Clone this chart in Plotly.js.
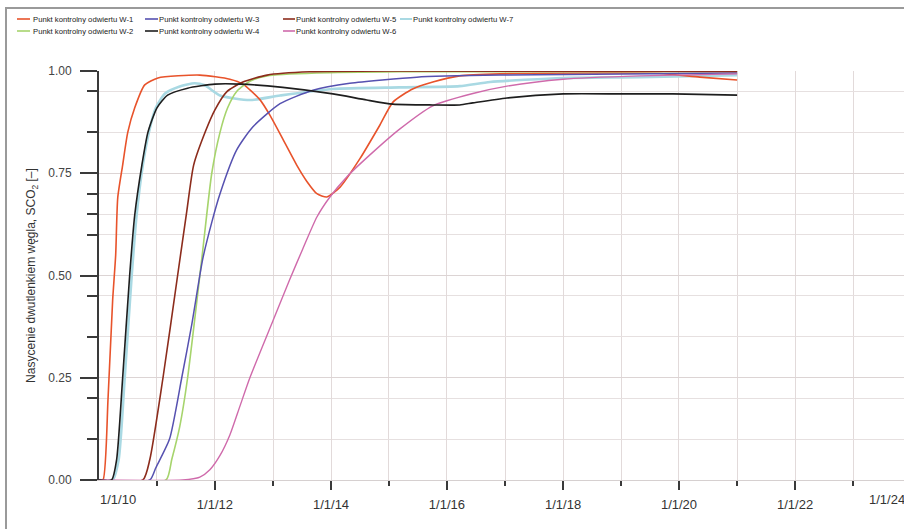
<!DOCTYPE html>
<html>
<head>
<meta charset="utf-8">
<script src="https://cdn.plot.ly/plotly-3.0.1.min.js"></script>
<style>
  html, body { margin: 0; padding: 0; background: #fff; overflow: hidden; width: 904px; height: 529px; }
  #chart { position: absolute; left: 0; top: 0; width: 920px; height: 529px; }
  #frame { position: absolute; left: 5px; top: 7px; width: 920px; height: 540px;
           border-left: 2px solid #9a9a9a; border-top: 2px solid #9a9a9a; pointer-events: none; }
</style>
</head>
<body>
<div id="chart"></div>
<div id="frame"></div>
<script>
// ---- data ----
const seriesNames = ['Punkt kontrolny odwiertu W-1','Punkt kontrolny odwiertu W-2','Punkt kontrolny odwiertu W-3',
  'Punkt kontrolny odwiertu W-4','Punkt kontrolny odwiertu W-5','Punkt kontrolny odwiertu W-6','Punkt kontrolny odwiertu W-7'];

const w1Dates = ['2010-01-01','2010-01-26','2010-02-27','2010-03-28','2010-04-16','2010-04-29','2010-05-30','2010-07-01','2010-08-14','2010-10-16','2011-01-07','2011-09-28','2012-04-04','2012-06-25','2012-10-10','2012-12-12','2013-03-03','2013-05-30','2013-08-02','2013-10-04','2013-12-06','2014-02-27','2014-07-01','2014-11-05','2015-01-26','2015-05-30','2015-10-04','2016-03-21','2016-11-30','2018-08-20','2019-09-03','2020-05-11','2021-01-01'];
const w1Values = [0,0,0.20,0.44,0.55,0.69,0.77,0.85,0.91,0.966,0.983,0.99,0.98,0.968,0.93,0.892,0.834,0.77,0.73,0.70,0.692,0.716,0.785,0.868,0.924,0.956,0.973,0.988,0.993,0.995,0.994,0.985,0.978];

const w2Dates = ['2010-01-01','2011-02-27','2011-04-04','2011-05-24','2011-07-13','2011-10-10','2011-12-12','2012-02-02','2012-03-21','2012-05-17','2012-08-08','2012-11-24','2013-10-04','2015-03-09','2021-01-01'];
const w2Values = [0,0,0.05,0.13,0.25,0.54,0.75,0.85,0.91,0.95,0.975,0.988,0.995,0.998,0.999];

const w3Dates = ['2010-01-01','2010-11-17','2010-12-25','2011-03-21','2011-06-06','2011-08-08','2011-10-16','2011-12-12','2012-02-02','2012-05-17','2012-08-26','2013-02-14','2013-09-09','2014-04-29','2015-06-25','2016-11-30','2021-01-01'];
const w3Values = [0,0,0.03,0.10,0.25,0.38,0.54,0.63,0.70,0.807,0.863,0.92,0.953,0.97,0.985,0.99,0.995];

const w4Dates = ['2010-01-01','2010-03-21','2010-04-22','2010-05-30','2010-07-13','2010-08-14','2010-09-28','2010-11-05','2011-01-01','2011-03-09','2011-07-13','2012-01-01','2012-06-06','2013-03-03','2014-01-13','2014-08-14','2015-01-26','2015-10-04','2016-03-21','2016-06-12','2017-01-13','2018-01-01','2019-01-13','2019-11-24','2021-01-01'];
const w4Values = [0,0,0.05,0.25,0.5,0.648,0.77,0.85,0.91,0.941,0.958,0.968,0.968,0.96,0.944,0.929,0.919,0.917,0.917,0.922,0.934,0.944,0.944,0.944,0.941];

const w5Dates = ['2010-01-01','2010-10-04','2010-11-17','2011-02-08','2011-05-11','2011-07-07','2011-08-20','2011-11-05','2012-01-01','2012-03-15','2012-06-25','2012-11-24','2013-08-20','2015-03-09','2021-01-01'];
const w5Values = [0,0,0.05,0.25,0.5,0.655,0.77,0.855,0.905,0.949,0.973,0.99,0.998,1.0,0.999];

const w6Dates = ['2010-01-01','2011-06-12','2011-09-28','2011-11-30','2012-02-02','2012-04-04','2012-06-06','2012-08-08','2013-01-01','2013-04-16','2013-07-07','2013-10-04','2013-12-25','2014-04-10','2014-08-20','2015-03-09','2015-10-04','2016-06-12','2017-01-13','2018-01-01','2019-04-29','2021-01-01'];
const w6Values = [0,0,0.007,0.025,0.06,0.11,0.18,0.25,0.39,0.49,0.565,0.643,0.692,0.741,0.79,0.858,0.915,0.945,0.963,0.98,0.988,0.993];

const w7Dates = ['2010-01-01','2010-03-28','2010-05-05','2010-06-12','2010-07-26','2010-08-26','2010-10-04','2010-11-11','2010-12-25','2011-02-21','2011-05-24','2011-08-26','2011-10-29','2012-02-02','2012-08-08','2013-02-14','2014-01-13','2015-03-09','2016-03-21','2016-09-28','2018-01-01','2019-04-29','2021-01-01'];
const w7Values = [0,0,0.05,0.25,0.5,0.648,0.77,0.85,0.91,0.945,0.962,0.97,0.965,0.94,0.929,0.94,0.956,0.96,0.963,0.973,0.983,0.985,0.99];

// major x ticks: the inner ones carry axis labels; the two end ones are labelled at the plot edges
const xTickVals = ['2012-01-01','2014-01-01','2016-01-01','2018-01-01','2020-01-01','2022-01-01'];
const xTickText = ['1/1/12','1/1/14','1/1/16','1/1/18','1/1/20','1/1/22'];
const xEndTickVals = ['2010-01-01','2024-01-01'];
const xEndTickText = ['1/1/10','1/1/24'];
const xMinorVals = ['2011-01-01','2013-01-01','2015-01-01','2017-01-01','2019-01-01','2021-01-01','2023-01-01'];
const yTickVals = [0, 0.25, 0.5, 0.75, 1.0];
const yTickText = ['0.00','0.25','0.50','0.75','1.00'];
const yMinorVals = [0.10, 0.20, 0.35, 0.45, 0.60, 0.65, 0.70, 0.85, 0.95];

// ---- styling ----
const W = 920, H = 529;
const M = {l: 99, r: 9, t: 71, b: 49};
const PW = W - M.l - M.r, PH = H - M.t - M.b;
const colors = ['#e8532b','#a6d46c','#5651b0','#1e1e1e','#8c2c1c','#cf6aab','#a9d9e3'];
const widths = [1.6, 1.6, 1.5, 1.6, 1.6, 1.4, 2.6];
// legend key geometry in page pixels: [lineStart, lineEnd, textStart, rowCentre]
const legendPos = [[17,30,33,19],[17,30,33,31],[145,158,159,19],[145,158,159,31],[283,295,296,19],[283,295,296,31],[400,412,413,19]];
const legFont = {family: 'Liberation Sans, Arial, sans-serif', size: 7.7, color: '#222'};
const tickColor = '#3a3a3a';
const gridColor = '#e2dada';
const px2x = p => (p - M.l) / PW;
const px2y = p => (H - M.b - p) / PH;

const allDates = [w1Dates,w2Dates,w3Dates,w4Dates,w5Dates,w6Dates,w7Dates];
const allValues = [w1Values,w2Values,w3Values,w4Values,w5Values,w6Values,w7Values];
const drawOrder = [6,0,1,2,4,5,3];

const traces = drawOrder.map(i => ({
  type: 'scatter', mode: 'lines', name: seriesNames[i],
  x: allDates[i], y: allValues[i],
  line: {color: colors[i], width: widths[i], shape: 'spline', smoothing: 0.6},
  showlegend: false
}));

const xRange = ['2010-01-01','2024-01-01'];

const legendShapes = seriesNames.map((n, i) => ({
  type: 'line', xref: 'paper', yref: 'paper',
  x0: px2x(legendPos[i][0]), x1: px2x(legendPos[i][1]),
  y0: px2y(legendPos[i][3]), y1: px2y(legendPos[i][3]),
  line: {color: colors[i], width: i === 6 ? 2 : 1.6}
}));
const legendTexts = seriesNames.map((n, i) => ({
  xref: 'paper', yref: 'paper', x: px2x(legendPos[i][2] - 2), y: px2y(legendPos[i][3]),
  xanchor: 'left', yanchor: 'middle', text: n, showarrow: false, font: legFont
}));

const layout = {
  width: W, height: H,
  margin: Object.assign({autoexpand: false}, M),
  paper_bgcolor: '#ffffff', plot_bgcolor: '#ffffff',
  font: {family: 'Liberation Sans, Arial, sans-serif', color: '#333'},
  showlegend: false,
  xaxis: {
    type: 'date', range: xRange,
    tickmode: 'array', tickvals: xTickVals, ticktext: xTickText,
    ticks: 'outside', ticklen: 9, tickwidth: 2, tickcolor: tickColor,
    tickfont: {size: 13, color: '#333'}, ticklabelstandoff: 3,
    showgrid: true, gridcolor: gridColor, gridwidth: 1,
    minor: {tickmode: 'array', tickvals: xMinorVals, ticks: 'outside', ticklen: 5, tickwidth: 2,
            tickcolor: tickColor, showgrid: true, gridcolor: gridColor, gridwidth: 1},
    showline: true, linecolor: '#d6d0d0', linewidth: 1,
    zeroline: false, fixedrange: true
  },
  xaxis2: {
    type: 'date', range: xRange, overlaying: 'x', anchor: 'y', side: 'bottom',
    tickmode: 'array', tickvals: xEndTickVals, showticklabels: false,
    ticks: 'outside', ticklen: 9, tickwidth: 2, tickcolor: tickColor,
    showgrid: true, gridcolor: gridColor, showline: false, zeroline: false, fixedrange: true
  },
  yaxis: {
    range: [0, 1.0],
    tickmode: 'array', tickvals: yTickVals, ticktext: yTickText,
    ticks: 'outside', ticklen: 17, tickwidth: 2, tickcolor: tickColor,
    tickfont: {size: 12, color: '#444'}, ticklabelstandoff: 6,
    showgrid: true, gridcolor: '#dcd4d4', gridwidth: 1,
    minor: {tickmode: 'array', tickvals: yMinorVals, ticks: 'outside', ticklen: 10, tickwidth: 2,
            tickcolor: tickColor, showgrid: true, gridcolor: '#e6e0e0', gridwidth: 1},
    showline: true, linecolor: tickColor, linewidth: 2,
    zeroline: false, fixedrange: true,
    title: {text: 'Nasycenie dwutlenkiem węgla, SCO<sub>2</sub> [–]', font: {size: 12, color: '#333'}, standoff: 10}
  },
  shapes: legendShapes,
  annotations: [
    {xref: 'x', yref: 'paper', x: xEndTickVals[0], y: 0, xanchor: 'left', yanchor: 'middle', yshift: -19, xshift: -1,
     text: xEndTickText[0], showarrow: false, font: {size: 13, color: '#333'}},
    {xref: 'x', yref: 'paper', x: xEndTickVals[1], y: 0, xanchor: 'right', yanchor: 'middle', yshift: -19, xshift: -4,
     text: xEndTickText[1], showarrow: false, font: {size: 13, color: '#333'}}
  ].concat(legendTexts)
};

Plotly.newPlot('chart', traces, layout, {staticPlot: true, displayModeBar: false});
</script>
</body>
</html>
